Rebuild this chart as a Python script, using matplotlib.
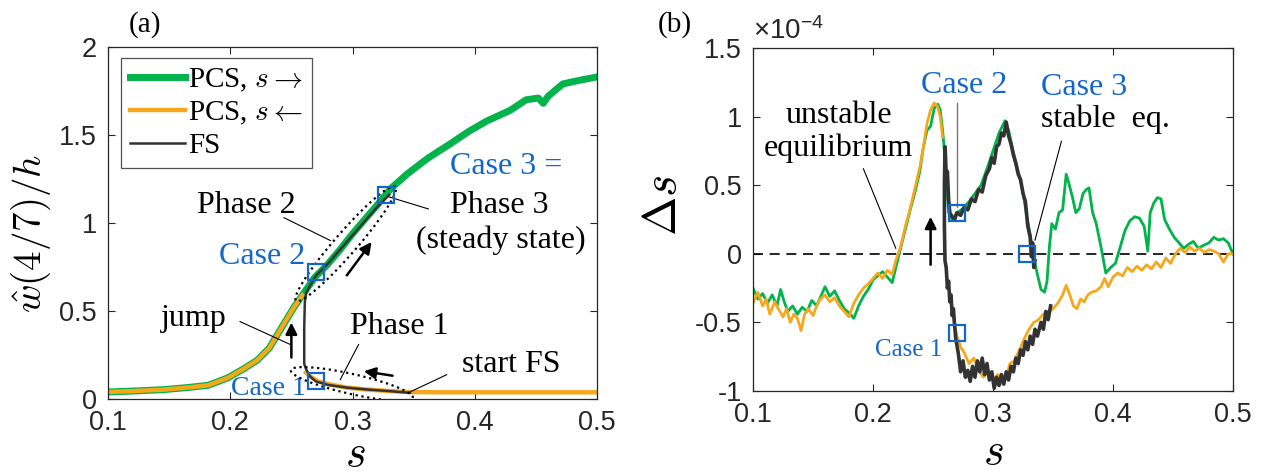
import numpy as np
import matplotlib
matplotlib.use('Agg')
import matplotlib.pyplot as plt

plt.rcParams['mathtext.fontset'] = 'cm'
plt.rcParams['axes.unicode_minus'] = False
plt.rcParams['font.family'] = 'Liberation Sans'

green = '#00b34a'
orange = '#f6a81c'
blue = '#1466c8'
dark = '#333333'
serif = 'Liberation Serif'

# ---- panel (a) data: w(4/7)/h vs s ----
s_up = [0.1, 0.12, 0.145, 0.165, 0.182, 0.198, 0.212, 0.222, 0.232, 0.245, 0.252, 0.259,
        0.269, 0.279, 0.29, 0.299, 0.31, 0.32, 0.327, 0.332, 0.345, 0.362, 0.38, 0.395,
        0.41, 0.429, 0.442, 0.452, 0.456, 0.46, 0.472, 0.485, 0.5]
w_up = [0.04, 0.045, 0.053, 0.065, 0.078, 0.12, 0.176, 0.22, 0.29, 0.44, 0.52, 0.59,
        0.69, 0.76, 0.85, 0.93, 1.02, 1.10, 1.16, 1.2, 1.28, 1.37, 1.45, 1.52,
        1.58, 1.64, 1.70, 1.71, 1.68, 1.72, 1.79, 1.81, 1.83]

s_down = [0.1, 0.12, 0.145, 0.165, 0.182, 0.198, 0.212, 0.222, 0.232, 0.245, 0.252, 0.259,
          np.nan, 0.262, 0.266, 0.272, 0.28, 0.295, 0.31, 0.33, 0.345, 0.37, 0.4, 0.45, 0.5]
w_down = [0.04, 0.045, 0.053, 0.065, 0.078, 0.12, 0.176, 0.22, 0.29, 0.44, 0.52, 0.59,
          np.nan, 0.15, 0.125, 0.10, 0.085, 0.065, 0.055, 0.045, 0.04, 0.038, 0.038, 0.038, 0.038]

s_fs = [0.347, 0.33, 0.31, 0.295, 0.28, 0.27, 0.265, 0.262, 0.2605, 0.2605, 0.261, 0.262,
        0.264, 0.27, 0.28, 0.29, 0.3, 0.31, 0.32, 0.33]
w_fs = [0.035, 0.045, 0.055, 0.065, 0.08, 0.1, 0.13, 0.17, 0.2, 0.4, 0.55, 0.6,
        0.63, 0.7, 0.77, 0.85, 0.93, 1.01, 1.09, 1.16]

case_s_a = [0.27, 0.27, 0.327]
case_w_a = [0.104, 0.72, 1.16]

# ---- panel (b) data: Delta s (x 1e-4) vs s ----
s_g = [0.100, 0.104, 0.108, 0.112, 0.116, 0.120, 0.123, 0.126, 0.129, 0.133, 0.137, 0.141,
       0.145, 0.149, 0.153, 0.157, 0.160, 0.164, 0.168, 0.172, 0.176, 0.180, 0.184, 0.188,
       0.192, 0.196, 0.200, 0.204, 0.208, 0.212, 0.216, 0.219, 0.223, 0.227, 0.231, 0.235,
       0.239, 0.242, 0.245, 0.248, 0.251, 0.254, 0.256, 0.258, 0.259, 0.261, 0.263, 0.266,
       0.270, 0.275, 0.280, 0.285, 0.290, 0.295, 0.300, 0.305, 0.310, 0.313, 0.317, 0.321,
       0.325, 0.328, 0.331, 0.334, 0.337, 0.340, 0.343, 0.345, 0.347, 0.349, 0.352, 0.355,
       0.358, 0.361, 0.363, 0.366, 0.369, 0.372, 0.375, 0.378, 0.380, 0.383, 0.386, 0.390,
       0.394, 0.398, 0.402, 0.406, 0.410, 0.414, 0.418, 0.422, 0.426, 0.429, 0.431, 0.434,
       0.437, 0.440, 0.443, 0.447, 0.451, 0.455, 0.459, 0.463, 0.467, 0.471, 0.475, 0.480,
       0.484, 0.488, 0.492, 0.496, 0.500]
d_g = [-0.25, -0.33, -0.29, -0.36, -0.30, -0.38, -0.26, -0.35, -0.42, -0.38, -0.44, -0.39,
       -0.42, -0.34, -0.38, -0.30, -0.24, -0.31, -0.27, -0.34, -0.40, -0.43, -0.47, -0.38,
       -0.31, -0.26, -0.19, -0.16, -0.13, -0.17, -0.21, -0.10, 0.04, 0.18, 0.32, 0.45,
       0.60, 0.78, 0.90, 0.93, 1.06, 1.09, 1.05, 0.90, 0.80, 0.55, 0.30, 0.25,
       0.30, 0.33, 0.38, 0.44, 0.50, 0.62, 0.75, 0.88, 0.97, 0.90, 0.74, 0.60,
       0.45, 0.28, 0.14, -0.03, -0.15, -0.26, -0.28, -0.20, 0.05, 0.22, 0.18, 0.30,
       0.32, 0.58, 0.52, 0.42, 0.30, 0.33, 0.44, 0.47, 0.48, 0.30, 0.22, 0.05,
       -0.14, -0.10, -0.07, 0.05, 0.17, 0.24, 0.27, 0.26, 0.20, 0.02, 0.30, 0.37,
       0.41, 0.40, 0.25, 0.18, 0.12, 0.08, 0.04, 0.07, 0.09, 0.04, 0.06, 0.08,
       0.12, 0.10, 0.11, 0.08, 0.00]

s_o = [0.100, 0.104, 0.108, 0.111, 0.114, 0.118, 0.121, 0.125, 0.128, 0.131, 0.134, 0.137,
       0.140, 0.143, 0.146, 0.150, 0.153, 0.156, 0.160, 0.164, 0.168, 0.172, 0.176, 0.180,
       0.184, 0.188, 0.192, 0.196, 0.200, 0.204, 0.208, 0.212, 0.216, 0.219, 0.223, 0.227,
       0.231, 0.235, 0.239, 0.242, 0.245, 0.248, 0.251, 0.254, 0.256, 0.258, np.nan,
       0.266, 0.268, 0.270, 0.273, 0.276, 0.280, 0.284, 0.288, 0.292, 0.296, 0.300, 0.304,
       0.308, 0.311, 0.314, 0.318, 0.322, 0.326, 0.330, 0.334, 0.338, 0.342, 0.346, 0.350,
       0.354, 0.358, 0.361, 0.364, 0.367, 0.370, 0.373, 0.376, 0.379, 0.382, 0.386, 0.390,
       0.393, 0.396, 0.400, 0.404, 0.408, 0.412, 0.416, 0.420, 0.424, 0.428, 0.432, 0.436,
       0.440, 0.444, 0.448, 0.452, 0.456, 0.460, 0.464, 0.468, 0.472, 0.476, 0.480, 0.484,
       0.488, 0.492, 0.496, 0.500]
d_o = [-0.36, -0.28, -0.38, -0.33, -0.44, -0.35, -0.40, -0.46, -0.40, -0.50, -0.44, -0.47,
       -0.56, -0.44, -0.40, -0.45, -0.38, -0.33, -0.30, -0.35, -0.32, -0.38, -0.42, -0.46,
       -0.36, -0.30, -0.25, -0.22, -0.18, -0.14, -0.18, -0.12, -0.15, -0.05, 0.05, 0.20,
       0.33, 0.48, 0.63, 0.78, 0.95, 1.05, 1.10, 1.07, 1.00, 0.85, np.nan,
       -0.40, -0.52, -0.60, -0.68, -0.72, -0.80, -0.76, -0.85, -0.90, -0.86, -0.92, -0.88,
       -0.95, -0.90, -0.80, -0.78, -0.70, -0.62, -0.55, -0.50, -0.48, -0.44, -0.42, -0.40,
       -0.36, -0.30, -0.23, -0.30, -0.38, -0.40, -0.33, -0.35, -0.30, -0.28, -0.27, -0.24,
       -0.18, -0.24, -0.17, -0.14, -0.16, -0.10, -0.13, -0.09, -0.12, -0.08, -0.11, -0.06,
       -0.10, -0.03, -0.07, 0.00, 0.04, 0.01, 0.05, 0.02, 0.04, 0.01, 0.03, 0.02,
       0.00, -0.06, 0.00, 0.00]

s_b = [0.348, 0.346, 0.344, 0.342, 0.340, 0.337, 0.335, 0.333, 0.331, 0.329, 0.327, 0.325,
       0.323, 0.321, 0.319, 0.317, 0.315, 0.313, 0.311, 0.309, 0.307, 0.305, 0.303, 0.301,
       0.299, 0.297, 0.295, 0.293, 0.291, 0.289, 0.287, 0.285, 0.283, 0.281, 0.279, 0.277,
       0.275, 0.273, 0.271, 0.269, 0.268, 0.267, 0.266, 0.265, 0.264, 0.263, 0.262, 0.261,
       0.260, 0.2595, 0.2595, 0.2600, 0.2605, 0.261, 0.262, 0.263, 0.264, 0.266, 0.268, 0.270,
       0.273, 0.276, 0.279, 0.282, 0.285, 0.288, 0.291, 0.294, 0.297, 0.299, 0.301, 0.303,
       0.305, 0.307, 0.309, 0.311, 0.313, 0.315, 0.317, 0.319, 0.321, 0.323, 0.325, 0.327,
       0.329, 0.331, 0.332, 0.333, 0.334, 0.335]
d_b = [-0.38, -0.48, -0.42, -0.55, -0.50, -0.60, -0.55, -0.66, -0.60, -0.70, -0.64, -0.74,
       -0.70, -0.80, -0.76, -0.86, -0.82, -0.92, -0.86, -0.95, -0.88, -0.96, -0.90, -0.98,
       -0.86, -0.92, -0.80, -0.88, -0.76, -0.86, -0.78, -0.90, -0.82, -0.93, -0.85, -0.90,
       -0.78, -0.86, -0.72, -0.62, -0.52, -0.40, -0.45, -0.30, -0.35, -0.20, -0.25, -0.10,
       -0.05, 0.20, 0.50, 0.78, 0.70, 0.55, 0.60, 0.40, 0.30, 0.27, 0.25, 0.30,
       0.28, 0.34, 0.32, 0.40, 0.38, 0.47, 0.45, 0.57, 0.62, 0.70, 0.66, 0.78,
       0.80, 0.88, 0.86, 0.96, 0.86, 0.80, 0.72, 0.66, 0.58, 0.54, 0.44, 0.38,
       0.20, 0.12, -0.02, 0.08, -0.10, -0.05]

case_s_b = [0.27, 0.27, 0.328]
case_d_b = [-0.58, 0.30, 0.0]


def dotted_ellipse(ax, p0, p1, half_w, pad):
    # ellipse drawn in pixel space between two data points
    a = ax.transData.transform(p0)
    b = ax.transData.transform(p1)
    c = (a + b) / 2
    d = b - a
    L = np.hypot(d[0], d[1]) / 2 + pad
    ang = np.arctan2(d[1], d[0])
    t = np.linspace(0, 2 * np.pi, 200)
    x = L * np.cos(t)
    y = half_w * np.sin(t)
    px = c[0] + x * np.cos(ang) - y * np.sin(ang)
    py = c[1] + x * np.sin(ang) + y * np.cos(ang)
    pts = ax.transData.inverted().transform(np.column_stack([px, py]))
    ax.plot(pts[:, 0], pts[:, 1], ':', color='k', lw=1.6, zorder=6)


def arrow(ax, start, end):
    ax.annotate('', xy=end, xytext=start,
                arrowprops=dict(arrowstyle='-|>', color='k', lw=1.8, mutation_scale=17))


def style(ax):
    ax.tick_params(direction='in', top=True, right=True, length=5, width=0.8,
                   labelsize=19.5, colors='#262626', pad=8)
    for sp in ax.spines.values():
        sp.set_color('#262626')
        sp.set_linewidth(0.9)


fig = plt.figure(figsize=(12.77, 4.74), dpi=100)

# ---------------- panel (a) ----------------
ax1 = fig.add_axes([108 / 1277, 75 / 474, 489 / 1277, 352 / 474])
ax1.plot(s_up, w_up, color=green, lw=5, label=r'PCS, $s\rightarrow$')
ax1.plot(s_down, w_down, color=orange, lw=3.2, label=r'PCS, $s\leftarrow$')
ax1.plot(s_fs, w_fs, color=dark, lw=1.8, label='FS', zorder=4)
ax1.plot(case_s_a, case_w_a, 's', ms=12, mfc='none', mec=blue, mew=1.6, zorder=7)
ax1.set_xlim(0.1, 0.5)
ax1.set_ylim(0, 2)
ax1.set_xticks([0.1, 0.2, 0.3, 0.4, 0.5])
ax1.set_xticklabels(['0.1', '0.2', '0.3', '0.4', '0.5'])
ax1.set_yticks([0, 0.5, 1, 1.5, 2])
ax1.set_yticklabels(['0', '0.5', '1', '1.5', '2'])
style(ax1)
ax1.set_xlabel(r'$s$', fontsize=32)
ax1.xaxis.set_label_coords(0.505, -0.1)
ax1.set_ylabel(r'$\hat{w}(4/7)/h$', fontsize=28)
ax1.yaxis.set_label_coords(-0.112, 0.47)

leg = ax1.legend(loc='upper left', bbox_to_anchor=(0.027, 0.97), prop={'family': serif, 'size': 21},
                 frameon=True, fancybox=False, edgecolor='#262626', handlelength=1.9,
                 handletextpad=0.1, borderpad=0.3, labelspacing=0.2, borderaxespad=0)
leg.get_frame().set_linewidth(0.9)

tk = dict(family=serif, fontsize=23)
ax1.text(0.38, 1.32, 'Case 3 =', color=blue, va='center', **tk)
ax1.text(0.38, 1.10, 'Phase 3', va='center', **tk)
ax1.text(0.421, 0.90, '(steady state)', va='center', ha='center', **tk)
ax1.plot([0.329, 0.362], [1.15, 1.08], color='k', lw=0.8)
ax1.text(0.213, 1.10, 'Phase 2', va='center', ha='center', **tk)
ax1.plot([0.244, 0.282], [1.03, 0.90], color='k', lw=0.8)
ax1.text(0.261, 0.81, 'Case 2', color=blue, va='center', ha='right', **tk)
ax1.text(0.17, 0.46, 'jump', va='center', ha='center', **tk)
ax1.plot([0.208, 0.249], [0.44, 0.31], color='k', lw=0.8)
ax1.text(0.338, 0.41, 'Phase 1', va='center', ha='center', **tk)
ax1.plot([0.305, 0.29], [0.31, 0.11], color='k', lw=0.8)
ax1.text(0.43, 0.195, 'start FS', va='center', ha='center', **tk)
ax1.plot([0.377, 0.347], [0.138, 0.04], color='k', lw=0.8)
ax1.text(0.262, 0.06, 'Case 1', color=blue, va='center', ha='right', family=serif, fontsize=20)
arrow(ax1, (0.25, 0.22), (0.25, 0.45))
arrow(ax1, (0.294, 0.69), (0.317, 0.905))
arrow(ax1, (0.335, 0.13), (0.307, 0.16))
dotted_ellipse(ax1, (0.256, 0.575), (0.333, 1.19), 11, 4)
dotted_ellipse(ax1, (0.252, 0.16), (0.347, 0.01), 10, 3)
fig.text(145 / 1277, 1 - 25 / 474, '(a)', family=serif, fontsize=21, ha='center', va='center')

# ---------------- panel (b) ----------------
ax2 = fig.add_axes([753 / 1277, 83 / 474, 480 / 1277, 343 / 474])
ax2.axhline(0, color='k', lw=1.2, ls=(0, (6, 4)))
ax2.plot(s_g, d_g, color=green, lw=2)
ax2.plot(s_o, d_o, color=orange, lw=2)
ax2.plot(s_b, d_b, color=dark, lw=2.6, zorder=4)
ax2.plot(case_s_b, case_d_b, 's', ms=12, mfc='none', mec=blue, mew=1.6, zorder=7)
ax2.set_xlim(0.1, 0.5)
ax2.set_ylim(-1, 1.5)
ax2.set_xticks([0.1, 0.2, 0.3, 0.4, 0.5])
ax2.set_xticklabels(['0.1', '0.2', '0.3', '0.4', '0.5'])
ax2.set_yticks([-1, -0.5, 0, 0.5, 1, 1.5])
ax2.set_yticklabels(['-1', '-0.5', '0', '0.5', '1', '1.5'])
style(ax2)
ax2.set_xlabel(r'$s$', fontsize=32)
ax2.xaxis.set_label_coords(0.5, -0.12)
ax2.set_ylabel(r'$\Delta s$', fontsize=34)
ax2.yaxis.set_label_coords(-0.14, 0.54)
ax2.text(0.0, 1.01, r'$\mathregular{\times10^{-4}}$', transform=ax2.transAxes,
         fontsize=20, color='#262626', ha='left', va='bottom')

ax2.text(0.276, 1.23, 'Case 2', color=blue, ha='center', va='center', **tk)
ax2.plot([0.27, 0.27], [1.10, 0.34], color='#777777', lw=1)
ax2.text(0.34, 1.21, 'Case 3', color=blue, ha='left', va='center', **tk)
ax2.text(0.34, 0.98, 'stable  eq.', ha='left', va='center', **tk)
ax2.plot([0.357, 0.335], [0.82, 0.10], color='k', lw=0.8)
ax2.text(0.172, 1.01, 'unstable', ha='center', va='center', **tk)
ax2.text(0.171, 0.77, 'equilibrium', ha='center', va='center', **tk)
ax2.plot([0.192, 0.219], [0.62, 0.04], color='k', lw=0.8)
ax2.text(0.258, -0.70, 'Case 1', color=blue, ha='right', va='center', family=serif, fontsize=18)
arrow(ax2, (0.248, -0.10), (0.248, 0.29))
fig.text(675 / 1277, 1 - 25 / 474, '(b)', family=serif, fontsize=21, ha='center', va='center')

fig.savefig('out.png', dpi=100)
